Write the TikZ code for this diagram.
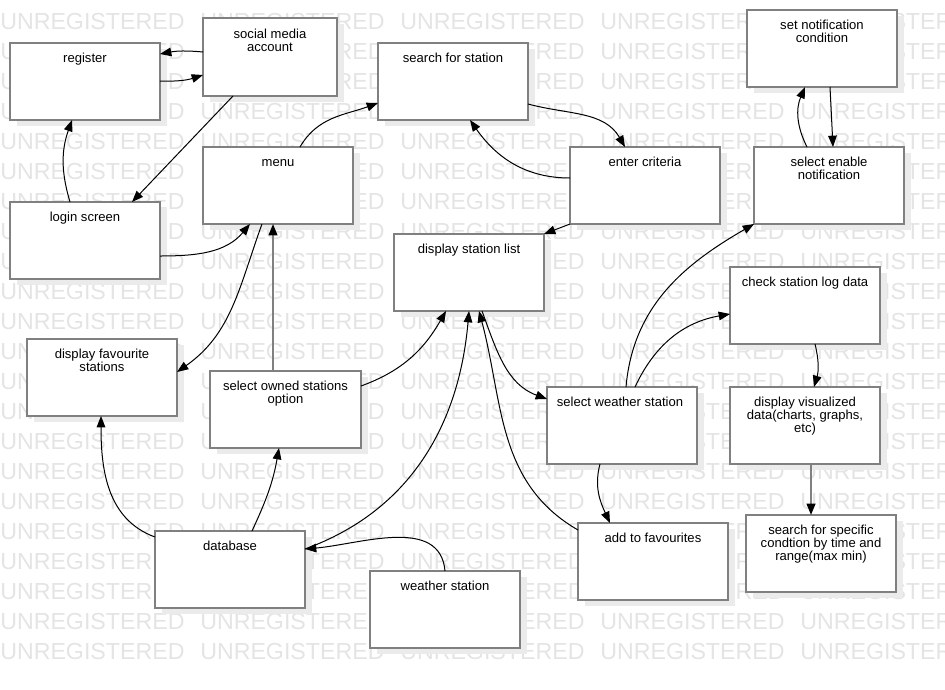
\documentclass[tikz,border=0pt]{standalone}
\usepackage{fontspec}
\setmainfont{Liberation Sans}
\usetikzlibrary{arrows.meta,calc,shadows}
\definecolor{boxgray}{HTML}{808080}
\definecolor{shadowgray}{HTML}{EBEBEB}
\definecolor{markgray}{HTML}{E4E4E4}
\newcommand{\steplines}[1]{\parbox[t]{112pt}{\centering #1}}
\tikzset{
  stepbox/.style={draw=boxgray, line width=1.5pt, fill=white, anchor=north west,
    inner sep=0pt, outer sep=0pt, minimum width=112.5pt, minimum height=57.75pt,
    drop shadow={shadow xshift=5.25pt, shadow yshift=-4.5pt, fill=shadowgray, opacity=1}},
  steptext/.style={anchor=base, inner sep=0pt, font=\fontsize{9.8pt}{10pt}\selectfont},
  flow/.style={draw=black, line width=0.75pt, -{Triangle[length=8.5pt,width=6.5pt]}},
  flowbar/.style={draw=boxgray, line width=1.5pt, -{Triangle[length=8.5pt,width=6.5pt,color=black]}},
  markword/.style={anchor=base west, inner sep=0pt, text=markgray, font=\fontsize{17.4pt}{17.4pt}\selectfont}
}
\begin{document}
\begin{tikzpicture}[x=0.75pt,y=0.75pt]
	\useasboundingbox (0,0) rectangle (945,-689);
	% watermark
	\begin{scope}
	\clip (0,0) rectangle (945,-689);
	\foreach \row in {0,...,21}
		\foreach \col in {0,...,4}
			\node[markword] (mark-\row-\col) at (200*\col, -29.3-30*\row) {UNREGISTERED};
	\end{scope}
	% boxes
	\node[stepbox] (reg) at (10,-43) {};
	\node[stepbox, minimum width=100.5pt, minimum height=58.5pt] (soc) at (203,-18) {};
	\node[stepbox] (search) at (378,-43) {};
	\node[stepbox] (setn) at (747,-10) {};
	\node[stepbox] (menu) at (203,-147) {};
	\node[stepbox] (enter) at (570,-147) {};
	\node[stepbox] (enab) at (754,-147) {};
	\node[stepbox] (login) at (10,-202) {};
	\node[stepbox] (dsl) at (394,-234) {};
	\node[stepbox] (check) at (730,-267) {};
	\node[stepbox] (dfav) at (27,-339) {};
	\node[stepbox, minimum width=113.25pt] (sown) at (210,-371) {};
	\node[stepbox] (sws) at (547,-387) {};
	\node[stepbox] (dvis) at (730,-387) {};
	\node[stepbox] (sspec) at (746,-515) {};
	\node[stepbox] (db) at (155,-531) {};
	\node[stepbox] (ws) at (370,-571) {};
	\node[stepbox] (afav) at (578,-523) {};
	% box texts
	\node[steptext] (reg-t) at ($(reg.north)+(0,-19)$) {\steplines{register}};
	\node[steptext] (soc-t) at ($(soc.north)+(0,-20)$) {\steplines{social media\\account}};
	\node[steptext] (search-t) at ($(search.north)+(0,-19)$) {\steplines{search for station}};
	\node[steptext] (setn-t) at ($(setn.north)+(0,-19)$) {\steplines{set notification\\condition}};
	\node[steptext] (menu-t) at ($(menu.north)+(0,-19)$) {\steplines{menu}};
	\node[steptext] (enter-t) at ($(enter.north)+(0,-19)$) {\steplines{enter criteria}};
	\node[steptext] (enab-t) at ($(enab.north)+(0,-19)$) {\steplines{select enable\\notification}};
	\node[steptext] (login-t) at ($(login.north)+(0,-19)$) {\steplines{login screen}};
	\node[steptext] (dsl-t) at ($(dsl.north)+(0,-19)$) {\steplines{display station list}};
	\node[steptext] (check-t) at ($(check.north)+(0,-19)$) {\steplines{check station log data}};
	\node[steptext] (dfav-t) at ($(dfav.north)+(0,-19)$) {\steplines{display favourite\\stations}};
	\node[steptext] (sown-t) at ($(sown.north)+(0,-19)$) {\steplines{select owned stations\\option}};
	\node[steptext] (sws-t) at ($(sws.north)+(-2,-19)$) {\steplines{select weather station}};
	\node[steptext] (dvis-t) at ($(dvis.north)+(0,-19)$) {\steplines{display visualized\\data(charts, graphs,\\etc)}};
	\node[steptext] (sspec-t) at ($(sspec.north)+(0,-19)$) {\steplines{search for specific\\condtion by time and\\range(max min)}};
	\node[steptext] (db-t) at ($(db.north)+(0,-19)$) {\steplines{database}};
	\node[steptext] (ws-t) at ($(ws.north)+(0,-19)$) {\steplines{weather station}};
	\node[steptext] (afav-t) at ($(afav.north)+(0,-19)$) {\steplines{add to favourites}};
	% connectors
	\draw[flow] ($(soc.north west)+(0,-34)$) to[bend right=8] ($(reg.north east)+(0,-11)$);
	\draw[flow] ($(reg.north east)+(0,-38)$) to[bend right=10] ($(soc.north west)+(0,-57)$);
	\draw[flow] ($(soc.south west)+(30,0)$) -- ($(login.north west)+(122,0)$);
	\draw[flow] ($(login.north west)+(60,0)$) to[bend left=18] ($(reg.south west)+(62,0)$);
	\draw[flow] ($(login.north east)+(0,-54)$) to[out=0,in=-130] ($(menu.south west)+(47,0)$);
	\draw[flow] ($(menu.north west)+(97,0)$) to[out=60,in=200] ($(search.north west)+(0,-60)$);
	\draw[flow] ($(search.north east)+(0,-61)$) to[out=-15,in=120] ($(enter.north west)+(55,0)$);
	\draw[flow] ($(enter.north west)+(0,-31)$) to[out=180,in=-55] ($(search.south west)+(92,0)$);
	\draw[flow] (enter.south west) -- (dsl.north east);
	\draw[flow] ($(menu.south west)+(59,0)$) to[out=-110,in=35] ($(dfav.north east)+(0,-33)$);
	\draw[flowbar] ($(sown.north west)+(63,0)$) -- ($(menu.south west)+(70,0)$);
	\draw[flow] ($(sown.north east)+(0,-15)$) to[out=20,in=-120] ($(dsl.south west)+(52,0)$);
	\draw[flow] ($(db.north east)+(0,-18)$) to[out=20,in=-95] ($(dsl.south west)+(75,0)$);
	\draw[flow] ($(ws.north west)+(75,0)$) to[out=95,in=5] ($(db.north east)+(0,-18)$);
	\draw[flow] ($(afav.north west)+(0,-7)$) to[out=150,in=-75] ($(dsl.south west)+(85,0)$);
	\draw[flow] ($(dsl.south west)+(88,0)$) to[out=-70,in=160] ($(sws.north west)+(0,-12)$);
	\draw[flow] ($(sws.south west)+(53,0)$) to[out=-105,in=115] ($(afav.north west)+(32,0)$);
	\draw[flow] ($(sws.north west)+(79,0)$) to[out=85,in=-150] (enab.south west);
	\draw[flow] ($(sws.north west)+(88,0)$) to[out=65,in=190] ($(check.north west)+(0,-47)$);
	\draw[flow] ($(enab.north west)+(53,0)$) to[bend left=25] ($(setn.south west)+(58,0)$);
	\draw[flow] ($(setn.south west)+(83,0)$) -- ($(enab.north west)+(79,0)$);
	\draw[flow] ($(check.south west)+(85,0)$) to[bend left=15] ($(dvis.north west)+(84,0)$);
	\draw[flowbar] ($(dvis.south west)+(81,0)$) -- ($(sspec.north west)+(65,0)$);
	\draw[flow] ($(db.north west)+(0,-6)$) to[out=160,in=-90] ($(dfav.south west)+(74,0)$);
	\draw[flow] ($(db.north west)+(97,0)$) to[out=65,in=-100] ($(sown.south west)+(69,0)$);
\end{tikzpicture}
\end{document}
